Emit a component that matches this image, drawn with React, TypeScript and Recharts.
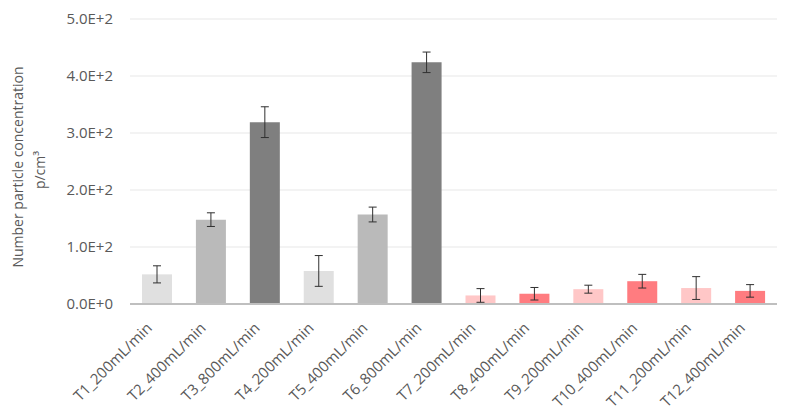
import React from "react";
import {
  BarChart,
  Bar,
  Cell,
  XAxis,
  YAxis,
  CartesianGrid,
  ErrorBar,
  Label,
} from "recharts";

const categories = [
  "T1_200mL/min",
  "T2_400mL/min",
  "T3_800mL/min",
  "T4_200mL/min",
  "T5_400mL/min",
  "T6_800mL/min",
  "T7_200mL/min",
  "T8_400mL/min",
  "T9_200mL/min",
  "T10_400mL/min",
  "T11_200mL/min",
  "T12_400mL/min",
];
const concentration = [52, 148, 319, 58, 157, 424, 15, 18, 26, 40, 28, 23];
const errors = [15, 12, 27, 27, 13, 18, 12, 11, 7, 12, 20, 11];
const yTicks = [0, 100, 200, 300, 400, 500];

const barColors = [
  "#e0e0e0", "#bababa", "#7f7f7f",
  "#e0e0e0", "#bababa", "#7f7f7f",
  "#ffc7c7", "#ff7c80", "#ffc7c7",
  "#ff7c80", "#ffc7c7", "#ff7c80",
];

const data = categories.map((name, i) => ({
  name,
  value: concentration[i],
  err: errors[i],
}));

const textColor = "#595959";
const font = "'Open Sans', sans-serif";

const fmtSci = (v: number) => v.toExponential(1).replace("e", "E");

const XTick = (props: any) => {
  const { x, y, payload } = props;
  return (
    <g transform={`translate(${x - 4},${y + 17})`}>
      <text
        textAnchor="end"
        transform="rotate(-45)"
        fill={textColor}
        fontSize={15}
        fontFamily={font}
      >
        {payload.value}
      </text>
    </g>
  );
};

const YTitle = () => (
  <g>
    <text
      transform="translate(23,167) rotate(-90)"
      textAnchor="middle"
      fill={textColor}
      fontSize={14}
      fontFamily={font}
    >
      Number particle concentration
    </text>
    <text
      transform="translate(45,170) rotate(-90)"
      textAnchor="middle"
      fill={textColor}
      fontSize={14}
      fontFamily={font}
    >
      p/cm³
    </text>
  </g>
);

export default function App() {
  return (
    <div style={{ position: "absolute", left: 0, top: 0, background: "#fff" }}>
      <BarChart
        width={791}
        height={414}
        data={data}
        margin={{ top: 19, right: 14, left: 0, bottom: 0 }}
      >
        <CartesianGrid vertical={false} stroke="#efefef" strokeWidth={1.5} />
        <XAxis
          dataKey="name"
          interval={0}
          height={110}
          tick={<XTick />}
          tickLine={false}
          axisLine={{ stroke: "#bfbfbf", strokeWidth: 2 }}
        />
        <YAxis
          width={130}
          domain={[0, 500]}
          ticks={yTicks}
          tickFormatter={fmtSci}
          axisLine={false}
          tickLine={false}
          tickMargin={11}
          tick={{ fill: textColor, fontSize: 15, fontFamily: font }}
        >
          <Label content={<YTitle />} />
        </YAxis>
        <Bar dataKey="value" barSize={30} isAnimationActive={false}>
          {data.map((d, i) => (
            <Cell key={d.name} fill={barColors[i]} />
          ))}
          <ErrorBar
            dataKey="err"
            width={4}
            stroke="#303030"
            strokeWidth={1}
            direction="y"
            isAnimationActive={false}
          />
        </Bar>
      </BarChart>
    </div>
  );
}
